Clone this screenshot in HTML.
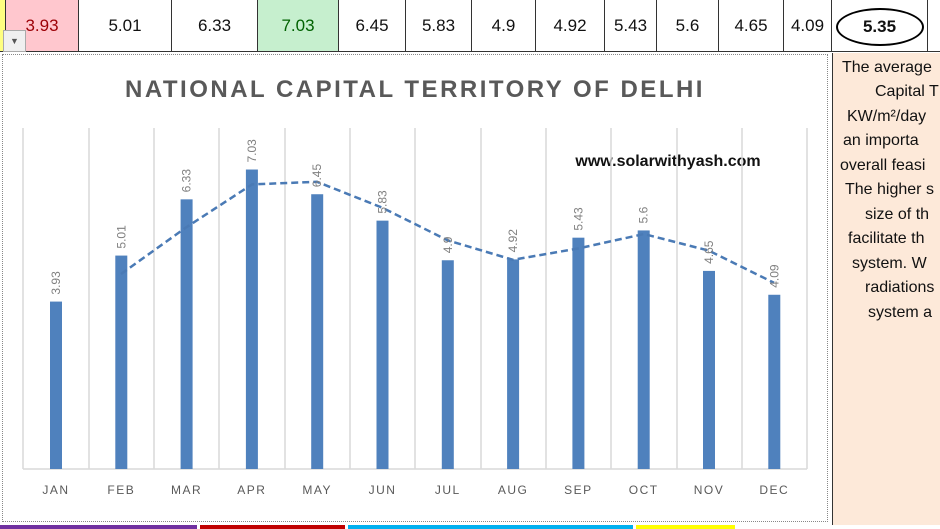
<!DOCTYPE html><html><head><style>
body{margin:0;width:940px;height:529px;overflow:hidden;background:#fff;font-family:"Liberation Sans",sans-serif;position:relative}
.c{position:absolute;top:0;height:52px;border-right:1px solid #333;border-bottom:1px solid #333;text-align:center;line-height:52px;font-size:17px;color:#111;box-sizing:border-box}
.r{position:absolute;font-size:16px;color:#111;white-space:nowrap;line-height:20px}
</style></head><body>
<div class="c" style="left:0;width:6px;background:#ffff80"></div>
<div class="c" style="left:6px;width:73px;background:#ffc7ce;color:#9c0006">3.93</div>
<div class="c" style="left:79px;width:93px">5.01</div>
<div class="c" style="left:172px;width:86px">6.33</div>
<div class="c" style="left:258px;width:81px;background:#c6efce;color:#006100">7.03</div>
<div class="c" style="left:339px;width:67px">6.45</div>
<div class="c" style="left:406px;width:66px">5.83</div>
<div class="c" style="left:472px;width:64px">4.9</div>
<div class="c" style="left:536px;width:69px">4.92</div>
<div class="c" style="left:605px;width:52px">5.43</div>
<div class="c" style="left:657px;width:62px">5.6</div>
<div class="c" style="left:719px;width:65px">4.65</div>
<div class="c" style="left:784px;width:48px">4.09</div>
<div class="c" style="left:832px;width:96px;font-weight:bold"><span style="display:inline-block;width:84px;height:34px;line-height:34px;border:2px solid #000;border-radius:50%;vertical-align:middle">5.35</span></div>
<div class="c" style="left:928px;width:12px;border-right:none"></div>
<div style="position:absolute;left:3px;top:30px;width:21px;height:20px;background:#f0f0f0;border:1px solid #aaa;font-size:9px;text-align:center;line-height:20px;color:#555">▼</div>
<div style="position:absolute;left:832px;top:53px;width:108px;height:472px;background:#fde9d9;border-left:1px solid #333;overflow:hidden">
<div class="r" style="left:9px;top:5px">The average</div>
<div class="r" style="left:42px;top:29px">Capital T</div>
<div class="r" style="left:14px;top:54px">KW/m²/day</div>
<div class="r" style="left:10px;top:78px">an importa</div>
<div class="r" style="left:7px;top:103px">overall feasi</div>
<div class="r" style="left:12px;top:127px">The higher s</div>
<div class="r" style="left:32px;top:152px">size of th</div>
<div class="r" style="left:15px;top:176px">facilitate th</div>
<div class="r" style="left:19px;top:201px">system. W</div>
<div class="r" style="left:32px;top:225px">radiations</div>
<div class="r" style="left:35px;top:250px">system a</div>
</div>
<div style="position:absolute;left:2px;top:54px;width:826px;height:468px;border:1px dotted #888;box-sizing:border-box"></div>
<div style="position:absolute;left:0;top:525px;width:197px;height:4px;background:#7030a0"></div>
<div style="position:absolute;left:200px;top:525px;width:145px;height:4px;background:#c00000"></div>
<div style="position:absolute;left:348px;top:525px;width:285px;height:4px;background:#00b0f0"></div>
<div style="position:absolute;left:636px;top:525px;width:99px;height:4px;background:#ffff00"></div>
<svg style="position:absolute;left:0;top:0" width="940" height="529">
<text x="415" y="97" text-anchor="middle" font-family="Liberation Sans" font-weight="bold" font-size="24" letter-spacing="2.5" fill="#595959">NATIONAL CAPITAL TERRITORY OF DELHI</text>
<text x="668" y="166" text-anchor="middle" font-family="Liberation Sans" font-weight="bold" font-size="16" fill="#111">www.solarwithyash.com</text>
<g stroke="#d9d9d9" stroke-width="1.5">
<line x1="23" y1="128" x2="23" y2="469"/><line x1="89" y1="128" x2="89" y2="469"/><line x1="154" y1="128" x2="154" y2="469"/><line x1="219" y1="128" x2="219" y2="469"/><line x1="285" y1="128" x2="285" y2="469"/><line x1="350" y1="128" x2="350" y2="469"/><line x1="415" y1="128" x2="415" y2="469"/><line x1="481" y1="128" x2="481" y2="469"/><line x1="546" y1="128" x2="546" y2="469"/><line x1="611" y1="128" x2="611" y2="469"/><line x1="677" y1="128" x2="677" y2="469"/><line x1="742" y1="128" x2="742" y2="469"/><line x1="807" y1="128" x2="807" y2="469"/>
<line x1="23" y1="469" x2="807" y2="469"/></g>
<g fill="#4f81bd" id="b"></g>
<polyline fill="none" stroke="#4a7ab5" stroke-width="2.5" stroke-dasharray="7,4" points="121,274 186,227.5 252,184.4 317,181.8 382,207.6 448,240.5 513,259.8 578,248.5 644,234 709,250.7 774,282.8"/>
<g id="lab" font-family="Liberation Sans" font-size="12" fill="#7f7f7f"></g>
<g id="ax" font-family="Liberation Sans" font-size="12" fill="#595959" letter-spacing="1.5" text-anchor="middle"></g>
</svg>
<script>
var v=[3.93,5.01,6.33,7.03,6.45,5.83,4.9,4.92,5.43,5.6,4.65,4.09],m=["JAN","FEB","MAR","APR","MAY","JUN","JUL","AUG","SEP","OCT","NOV","DEC"],s="",l="",a="";
for(var i=0;i<12;i++){var x=56+i*65.3,h=v[i]*42.6,t=469-h;s+='<rect x="'+(x-6)+'" y="'+t+'" width="12" height="'+h+'"/>';l+='<text transform="translate('+(x+4)+','+(t-7)+') rotate(-90)">'+v[i]+'</text>';a+='<text x="'+x+'" y="494">'+m[i]+'</text>';}
document.getElementById("b").innerHTML=s;document.getElementById("lab").innerHTML=l;document.getElementById("ax").innerHTML=a;
</script>
</body></html>
